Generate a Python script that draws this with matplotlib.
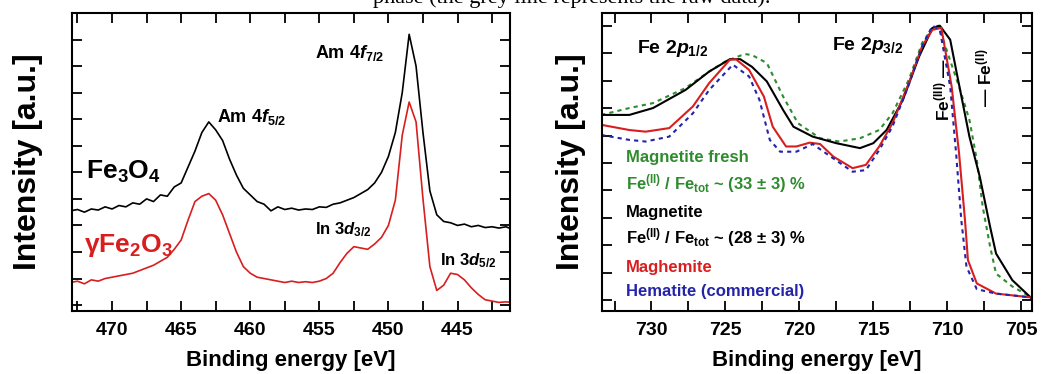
import matplotlib
matplotlib.use('Agg')
import matplotlib.pyplot as plt
from matplotlib.ticker import MultipleLocator, NullFormatter

# Am 4f / In 3d region (left panel)
am_energy = [473, 472.5, 472, 471.5, 471, 470.5, 470, 469.5, 469, 468.5, 468, 467.5, 467, 466.5,
             466, 465.5, 465, 464.5, 464, 463.5, 463, 462.5, 462, 461.5, 461, 460.5, 460, 459.5,
             459, 458.5, 458, 457.5, 457, 456.5, 456, 455.5, 455, 454.5, 454, 453.5, 453, 452.5,
             452, 451.5, 451, 450.5, 450, 449.5, 449, 448.5, 448, 447.5, 447, 446.5, 446, 445.5,
             445, 444.5, 444, 443.5, 443, 442.5, 442, 441.5, 441]
fe3o4 = [3.55, 3.6, 3.5, 3.62, 3.58, 3.7, 3.62, 3.75, 3.7, 3.85, 3.8, 4.0, 3.9, 4.15,
         4.1, 4.45, 4.6, 5.2, 5.8, 6.5, 6.9, 6.6, 6.2, 5.5, 4.9, 4.4, 4.15, 3.9,
         3.8, 3.55, 3.7, 3.6, 3.65, 3.58, 3.62, 3.6, 3.7, 3.68, 3.8, 3.85, 3.95, 4.05,
         4.2, 4.35, 4.6, 5.0, 5.6, 6.5, 8.0, 10.2, 9.0, 6.5, 4.3, 3.4, 3.15, 3.1,
         3.0, 3.05, 2.95, 3.0, 2.92, 2.95, 2.9, 2.95, 2.85]
gfe2o3 = [0.85, 0.9, 0.8, 0.95, 0.9, 1.0, 1.05, 1.1, 1.15, 1.2, 1.3, 1.4, 1.5, 1.65,
          1.8, 2.1, 2.45, 3.2, 3.9, 4.1, 4.2, 3.95, 3.4, 2.7, 2.0, 1.45, 1.2, 1.05,
          1.0, 0.95, 0.9, 0.85, 0.9, 0.85, 0.88, 0.85, 0.9, 1.0, 1.2, 1.6, 1.95, 2.2,
          2.15, 2.1, 2.3, 2.55, 3.0, 3.95, 6.4, 7.65, 6.9, 4.0, 1.45, 0.55, 0.75, 1.2,
          1.15, 0.95, 0.65, 0.4, 0.2, 0.15, 0.1, 0.12, 0.1]

# Fe 2p region (right panel)
mag_fresh_energy = [733.4, 731.5, 729.9, 727.7, 726.1, 725.0, 723.7, 723.2, 722.2, 721.1, 720.1,
                    718.6, 717.3, 715.9, 714.6, 713.7, 712.6, 711.7, 711.0, 710.6, 709.2, 708.5,
                    708.0, 707.6, 707.1, 706.7, 705.6, 704.3]
mag_fresh = [6.75, 7.0, 7.18, 7.73, 8.33, 8.7, 8.97, 8.93, 8.64, 7.42, 6.45,
             5.9, 5.78, 5.9, 6.2, 6.81, 8.03, 9.37, 9.92, 10.0, 7.78, 6.57,
             5.11, 3.4, 1.95, 0.97, 0.5, 0.1]
mag_energy = [733.4, 731.5, 729.9, 727.7, 726.1, 724.7, 724.0, 723.2, 722.2, 721.1, 720.4,
              719.1, 717.5, 715.9, 715.0, 714.1, 713.0, 711.9, 711.0, 710.5, 709.8, 709.4,
              708.5, 707.8, 707.1, 706.7, 705.6, 704.3]
magnetite = [6.75, 6.75, 7.0, 7.66, 8.33, 8.78, 8.78, 8.5, 7.97, 6.93, 6.32,
             5.96, 5.72, 5.54, 5.72, 6.2, 7.3, 8.88, 9.92, 10.0, 9.49, 8.39,
             5.96, 4.5, 2.67, 1.7, 0.73, 0.07]
magh_energy = [733.4, 731.5, 730.4, 728.8, 727.2, 726.1, 724.7, 724.3, 723.4, 722.4, 721.8,
               720.9, 720.2, 719.3, 718.6, 717.7, 716.4, 715.5, 714.6, 713.7, 712.6, 711.7,
               711.0, 710.4, 709.7, 709.2, 708.8, 708.6, 708.0, 706.7, 704.3]
maghemite = [6.39, 6.2, 6.14, 6.27, 7.06, 7.91, 8.76, 8.78, 8.39, 7.42, 6.32,
             5.6, 5.6, 5.74, 5.69, 5.23, 4.81, 4.93, 5.6, 6.45, 7.91, 9.25,
             9.85, 9.92, 7.78, 5.35, 2.92, 1.46, 0.61, 0.24, 0.1]
hem_energy = [733.4, 731.5, 730.4, 728.8, 727.2, 726.1, 724.5, 723.4, 722.7, 722.0, 721.3,
              720.2, 719.1, 718.2, 716.4, 715.5, 714.6, 713.7, 712.6, 711.7, 711.0, 710.5,
              709.8, 709.4, 709.05, 708.7, 708.0, 706.7, 704.3]
hematite = [6.02, 5.84, 5.78, 5.96, 6.81, 7.66, 8.58, 8.15, 7.3, 5.84, 5.41,
            5.41, 5.69, 5.35, 4.68, 4.74, 5.47, 6.33, 7.85, 9.25, 10.0, 9.85,
            7.78, 5.35, 2.92, 1.22, 0.4, 0.24, 0.1]

plt.rcParams['font.family'] = ['Liberation Sans', 'DejaVu Sans']
plt.rcParams['font.weight'] = 'bold'
plt.rcParams['mathtext.fontset'] = 'custom'
plt.rcParams['mathtext.rm'] = 'Liberation Sans:bold'
plt.rcParams['mathtext.bf'] = 'Liberation Sans:bold'
plt.rcParams['mathtext.it'] = 'Liberation Sans:bold:italic'

fig = plt.figure(figsize=(10.43, 3.74), dpi=100)
ax1 = fig.add_axes([0.069, 0.168, 0.42, 0.797])
ax2 = fig.add_axes([0.577, 0.168, 0.412, 0.797])

red = '#d81e1e'
green = '#2e8b2e'
blue = '#2424a8'

ax1.plot(am_energy, fe3o4, color='black', linewidth=1.2)
ax1.plot(am_energy, gfe2o3, color=red, linewidth=1.2)
ax1.set_xlim(472.9, 441.2)
ax1.set_ylim(-0.23, 11.0)

ax2.plot(mag_fresh_energy, mag_fresh, color=green, linewidth=1.5, linestyle=(0, (2, 2)))
ax2.plot(mag_energy, magnetite, color='black', linewidth=1.5)
ax2.plot(magh_energy, maghemite, color=red, linewidth=1.5)
ax2.plot(hem_energy, hematite, color=blue, linewidth=1.5, linestyle=(0, (2, 2)))
ax2.set_xlim(733.36, 704.3)
ax2.set_ylim(-0.4, 10.46)

for ax, pad in [(ax1, 17), (ax2, 8)]:
    ax.xaxis.set_major_locator(MultipleLocator(5))
    ax.xaxis.set_minor_locator(MultipleLocator(2.5))
    ax.yaxis.set_major_locator(MultipleLocator(1))
    ax.yaxis.set_major_formatter(NullFormatter())
    ax.tick_params(which='both', direction='in', top=True, right=True, length=7, width=1.3)
    ax.tick_params(axis='x', labelsize=14, pad=8)
    for lab in ax.get_xticklabels():
        lab.set_fontweight('bold')
    for s in ax.spines.values():
        s.set_linewidth(1.5)
    ax.set_xlabel('Binding energy [eV]', fontsize=16, fontweight='bold', labelpad=8)
    ax.set_ylabel('Intensity [a.u.]', fontsize=23, fontweight='bold', labelpad=pad)

# left panel annotations
ax1.text(471.9, 4.75, r'Fe$_3$O$_4$', fontsize=19, color='black')
ax1.text(472.0, 2.0, r'γFe$_2$O$_3$', fontsize=19, color=red)
ax1.text(462.4, 6.9, r'Am 4$f_{5/2}$', fontsize=13)
ax1.text(455.3, 9.3, r'Am 4$f_{7/2}$', fontsize=13)
ax1.text(455.3, 2.65, r'In 3$d_{3/2}$', fontsize=12)
ax1.text(446.3, 1.5, r'In 3$d_{5/2}$', fontsize=12)

# right panel annotations
ax2.text(731.0, 9.0, r'Fe 2$p_{1/2}$', fontsize=14)
ax2.text(717.8, 9.1, r'Fe 2$p_{3/2}$', fontsize=14)
ax2.text(710.3, 7.7, r'Fe$^{\mathrm{(III)}}$ —', fontsize=12.5, rotation=90, ha='center', va='center')
ax2.text(707.5, 8.1, r'— Fe$^{\mathrm{(II)}}$', fontsize=12.5, rotation=90, ha='center', va='center')

legend_lines = [
    ('Magnetite fresh', green),
    (r'Fe$^{\mathrm{(II)}}$ / Fe$_{\mathrm{tot}}$ ~ (33 ± 3) %', green),
    ('Magnetite', 'black'),
    (r'Fe$^{\mathrm{(II)}}$ / Fe$_{\mathrm{tot}}$ ~ (28 ± 3) %', 'black'),
    ('Maghemite', red),
    ('Hematite (commercial)', blue),
]
legend_y = [5.2, 4.25, 3.2, 2.3, 1.2, 0.3]
for (txt, col), yy in zip(legend_lines, legend_y):
    ax2.text(731.7, yy, txt, fontsize=12, color=col, va='center')

# clipped caption from the page above the figure
fig.text(0.358, 0.993, 'phase (the grey line represents the raw data).', family='Liberation Serif',
         fontweight='normal', fontsize=16, va='baseline')

plt.savefig('out.png', dpi=100)
